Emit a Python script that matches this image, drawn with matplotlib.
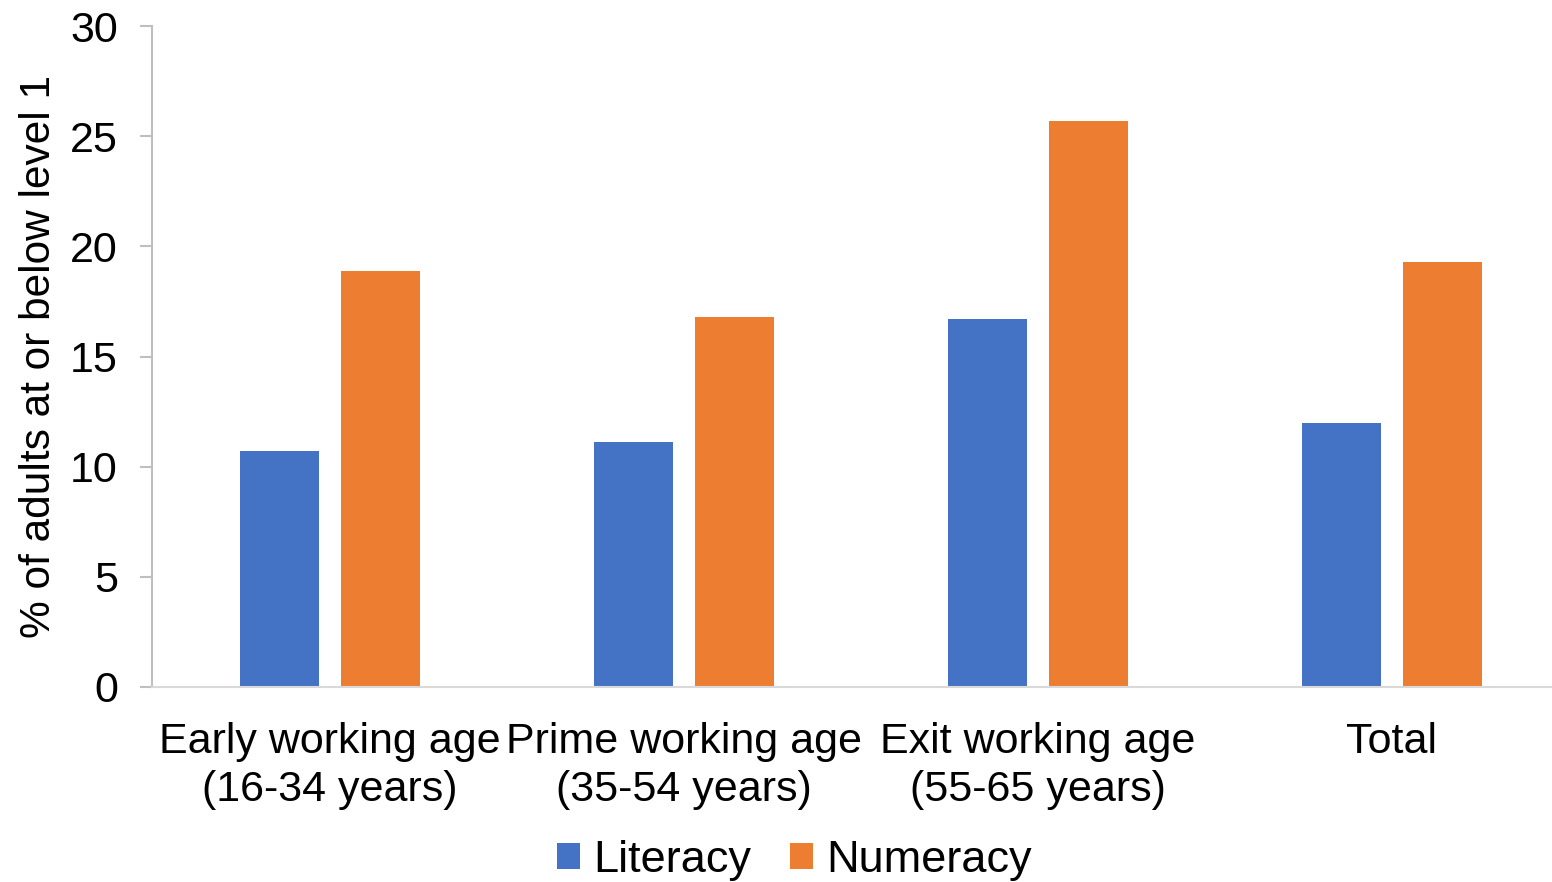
import numpy as np
import matplotlib
matplotlib.use("Agg")
import matplotlib.pyplot as plt

plt.rcParams['font.family'] = ['Liberation Sans', 'DejaVu Sans']

# Grupos de edad y porcentajes por habilidad
categories = ["Early working age\n(16-34 years)", "Prime working age\n(35-54 years)",
              "Exit working age\n(55-65 years)", "Total"]
literacy = [10.7, 11.1, 16.7, 12.0]
numeracy = [18.9, 16.8, 25.7, 19.3]
y_ticks = [0, 5, 10, 15, 20, 25, 30]

fig = plt.figure(figsize=(15.52, 8.82), dpi=100)
ax = fig.add_axes([152 / 1552, 1 - 687 / 882, 1 - 152 / 1552, (687 - 26) / 882])

x = np.arange(len(categories))
width = 0.224
offset = 0.143
b1 = ax.bar(x - offset, literacy, width, color="#4472C4", label="Literacy")
b2 = ax.bar(x + offset, numeracy, width, color="#ED7D31", label="Numeracy")

ax.set_xlim(-0.503, 3.452)
ax.set_ylim(0, 30)
ax.set_yticks(y_ticks)
ax.set_xticks(x)
ax.set_xticklabels(categories, fontsize=31, linespacing=1.28)
ax.tick_params(axis='y', labelsize=31, length=8.6, color="#bfbfbf", width=1.5, pad=16)
ax.tick_params(axis='x', length=0, pad=25)

for s in ["top", "right"]:
    ax.spines[s].set_visible(False)
ax.spines["left"].set_color("#bfbfbf")
ax.spines["left"].set_linewidth(1.5)
ax.spines["bottom"].set_color("#d9d9d9")
ax.spines["bottom"].set_linewidth(1.5)

ax.set_ylabel("% of adults at or below level 1", fontsize=30.5, labelpad=8)

fig.legend(handles=[b1, b2], loc="lower center", bbox_to_anchor=(0.512, -0.045),
           ncol=2, frameon=False, fontsize=32.5, handlelength=0.5, handleheight=0.5,
           handletextpad=0.3, columnspacing=0.87)

fig.savefig("out.png", dpi=100)
